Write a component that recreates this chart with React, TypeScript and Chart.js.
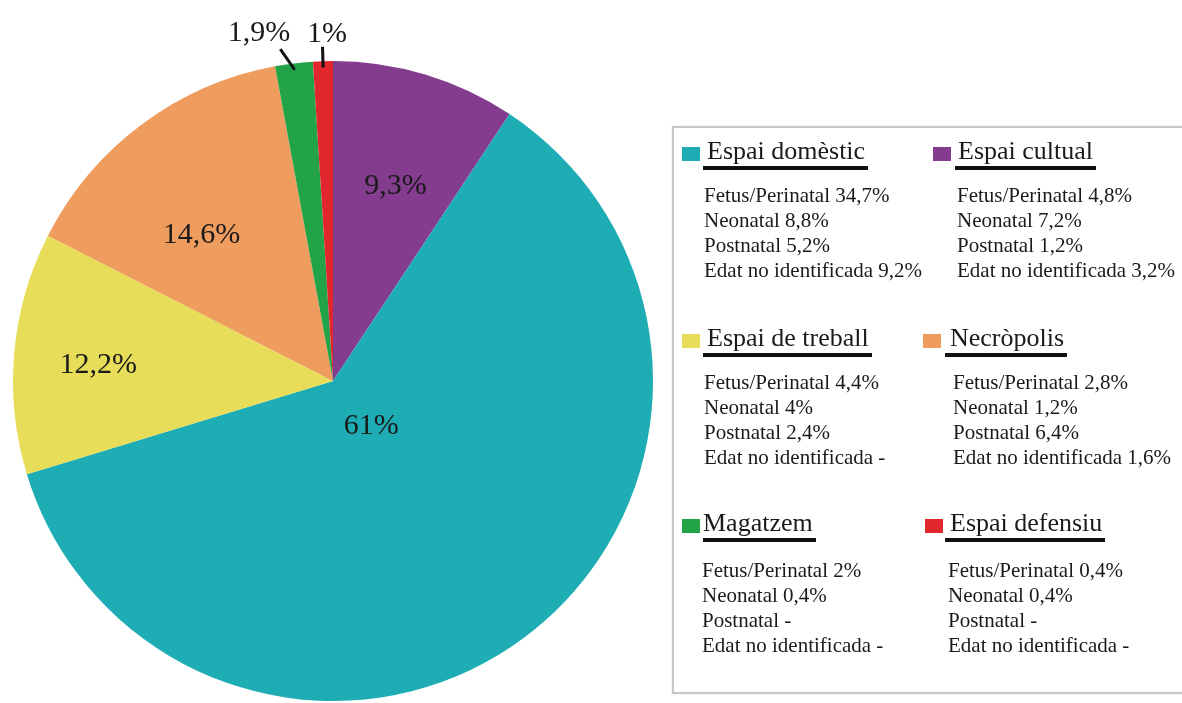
import React, { useEffect, useRef } from 'react';
import { Chart, registerables } from 'chart.js';

Chart.register(...registerables);

// ---- Data ----
const categories = ['Espai cultual', 'Espai domèstic', 'Espai de treball', 'Necròpolis', 'Magatzem', 'Espai defensiu'];
const shares = [9.3, 61, 12.2, 14.6, 1.9, 1];
const colors = ['#843c8e', '#1eadb4', '#e8dd58', '#ef9c5f', '#23a347', '#e2262e'];
const fetusPerinatal = ['4,8%', '34,7%', '4,4%', '2,8%', '2%', '0,4%'];
const neonatal = ['7,2%', '8,8%', '4%', '1,2%', '0,4%', '0,4%'];
const postnatal = ['1,2%', '5,2%', '2,4%', '6,4%', '-', '-'];
const unidentified = ['3,2%', '9,2%', '-', '1,6%', '-', '-'];
const ageLabels = ['Fetus/Perinatal', 'Neonatal', 'Postnatal', 'Edat no identificada'];

// ---- Styling / placement ----
const SERIF = "'Liberation Serif', 'Times New Roman', serif";
// label placement per slice: radius fraction, position within slice (0..1), angle offset (deg), leader [from, to, toAngleOffsetDeg]
const labelPlacement: { r: number; t: number; dA?: number; leader?: [number, number, number] }[] = [
  { r: 0.64, t: 0.53 },
  { r: 0.185, t: 0.484 },
  { r: 0.735, t: 0.475 },
  { r: 0.614, t: 0.4 },
  { r: 1.11, t: 0.5, dA: -5, leader: [0.98, 1.05, -2] },
  { r: 1.085, t: 0.5, dA: 0.8, leader: [0.98, 1.045, 0] },
];

// legend layout: order index, swatch x, title x, underline x, items x, title baseline, items first baseline
const legendBlocks = [
  { i: 1, sx: 682, tx: 707, ux: 703, ix: 704, tb: 160, ib: 203 },
  { i: 0, sx: 933, tx: 958, ux: 955, ix: 957, tb: 160, ib: 203 },
  { i: 2, sx: 682, tx: 707, ux: 703, ix: 704, tb: 347, ib: 390 },
  { i: 3, sx: 923, tx: 950, ux: 945, ix: 953, tb: 347, ib: 390 },
  { i: 4, sx: 682, tx: 703, ux: 703, ix: 702, tb: 532, ib: 578 },
  { i: 5, sx: 925, tx: 950, ux: 945, ix: 948, tb: 532, ib: 578 },
];

const fmt = (v: number) => String(v).replace('.', ',') + '%';

const sliceLabels = {
  id: 'sliceLabels',
  afterDatasetsDraw(chart: any) {
    const ctx = chart.ctx;
    const meta = chart.getDatasetMeta(0);
    ctx.save();
    ctx.font = `30px ${SERIF}`;
    ctx.fillStyle = '#1a1a1a';
    ctx.textAlign = 'center';
    ctx.textBaseline = 'middle';
    meta.data.forEach((arc: any, i: number) => {
      const p = arc.getProps(['x', 'y', 'startAngle', 'endAngle', 'outerRadius'], true);
      const pl = labelPlacement[i];
      const mid = p.startAngle + (p.endAngle - p.startAngle) * pl.t;
      const a = mid + ((pl.dA || 0) * Math.PI) / 180;
      const R = p.outerRadius;
      const lx = p.x + Math.cos(a) * R * pl.r;
      const ly = p.y + Math.sin(a) * R * pl.r;
      if (pl.leader) {
        const [f, t, d] = pl.leader;
        const a2 = mid + (d * Math.PI) / 180;
        ctx.beginPath();
        ctx.strokeStyle = '#111';
        ctx.lineWidth = 3;
        ctx.moveTo(p.x + Math.cos(mid) * R * f, p.y + Math.sin(mid) * R * f);
        ctx.lineTo(p.x + Math.cos(a2) * R * t, p.y + Math.sin(a2) * R * t);
        ctx.stroke();
      }
      ctx.fillText(fmt(shares[i]), lx, ly);
    });
    ctx.restore();
  },
};

function Legend() {
  const titleFs = 26;
  const itemFs = 21;
  const items = [fetusPerinatal, neonatal, postnatal, unidentified];
  return (
    <>
      <div
        style={{
          position: 'absolute',
          left: 672,
          top: 126,
          width: 520,
          height: 564,
          border: '2px solid #c6c6c6',
          boxShadow: '0 0 2px rgba(0,0,0,0.15)',
          background: '#fff',
        }}
      />
      {legendBlocks.map((b) => (
        <React.Fragment key={b.i}>
          <div
            style={{
              position: 'absolute',
              left: b.sx,
              top: b.tb - 13,
              width: 18,
              height: 14,
              background: colors[b.i],
            }}
          />
          <span
            style={{
              position: 'absolute',
              left: b.ux,
              top: b.tb - 0.8375 * titleFs,
              paddingLeft: b.tx - b.ux,
              paddingRight: 3,
              paddingBottom: 2,
              borderBottom: '4px solid #111',
              fontFamily: SERIF,
              fontSize: titleFs,
              lineHeight: `${titleFs}px`,
              color: '#1a1a1a',
              whiteSpace: 'nowrap',
            }}
          >
            {categories[b.i]}
          </span>
          {ageLabels.map((lab, k) => (
            <div
              key={k}
              style={{
                position: 'absolute',
                left: b.ix,
                top: b.ib + k * 25 - 0.8375 * itemFs,
                fontFamily: SERIF,
                fontSize: itemFs,
                lineHeight: `${itemFs}px`,
                color: '#1a1a1a',
                whiteSpace: 'nowrap',
              }}
            >
              {lab} {items[k][b.i]}
            </div>
          ))}
        </React.Fragment>
      ))}
    </>
  );
}

export default function App() {
  const canvasRef = useRef<HTMLCanvasElement | null>(null);
  useEffect(() => {
    const chart = new Chart(canvasRef.current as HTMLCanvasElement, {
      type: 'pie',
      data: {
        labels: categories,
        datasets: [
          {
            data: shares,
            backgroundColor: colors,
            borderWidth: 0,
          },
        ],
      },
      options: {
        animation: false,
        responsive: true,
        maintainAspectRatio: false,
        layout: { padding: { left: 13, top: 61, right: 529, bottom: 2 } },
        plugins: {
          legend: { display: false },
          tooltip: { enabled: false },
        },
      },
      plugins: [sliceLabels],
    });
    return () => chart.destroy();
  }, []);
  return (
    <div style={{ position: 'absolute', left: 0, top: 0, width: 1182, height: 703, background: '#fff', overflow: 'hidden' }}>
      <div style={{ position: 'absolute', left: 0, top: 0, width: 1182, height: 703 }}>
        <canvas ref={canvasRef} />
      </div>
      <Legend />
    </div>
  );
}
